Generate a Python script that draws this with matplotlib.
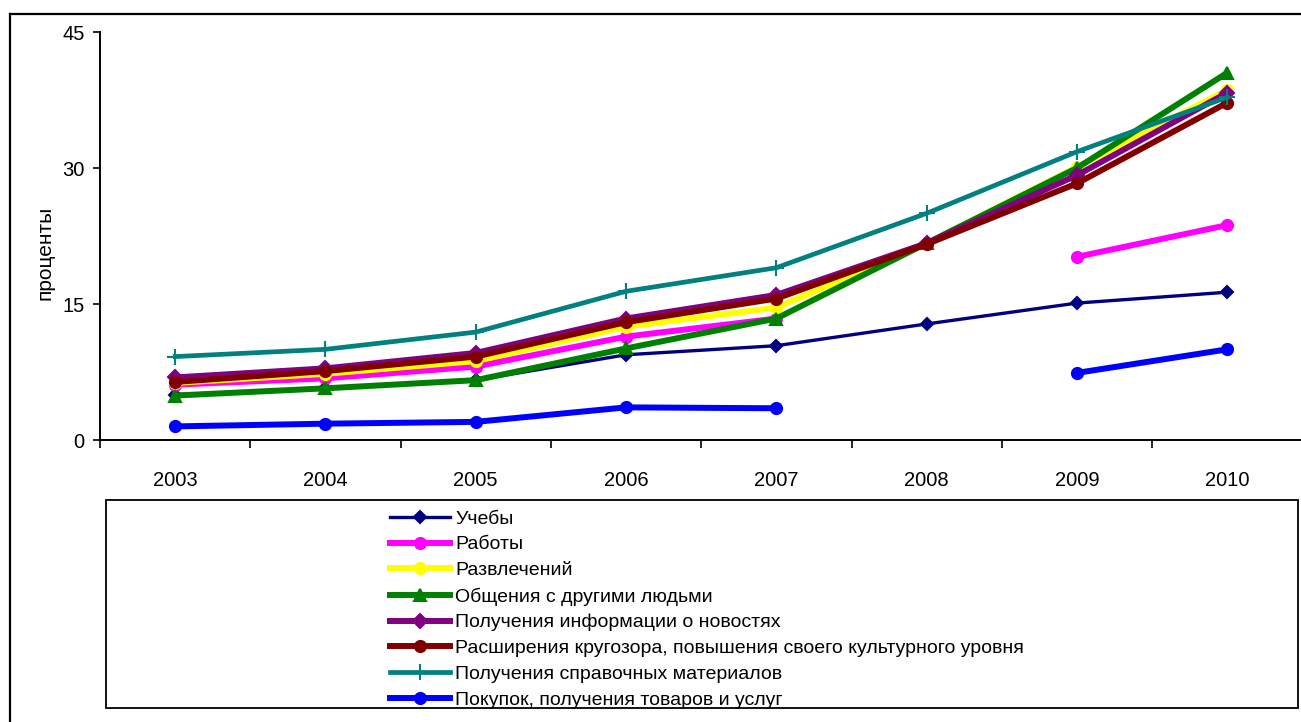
import numpy as np
import matplotlib.pyplot as plt
from matplotlib.lines import Line2D
from matplotlib.patches import Rectangle

plt.rcParams['font.family'] = ['Liberation Sans', 'DejaVu Sans']

years = ['2003', '2004', '2005', '2006', '2007', '2008', '2009', '2010']
nan = np.nan

ucheba = [5.0, 5.7, 6.6, 9.4, 10.4, 12.8, 15.1, 16.3]
raboty = [6.1, 6.8, 8.1, 11.4, 13.4, nan, 20.2, 23.7]
razvlech = [6.3, 7.3, 8.7, 12.5, 14.6, 21.7, 30.1, 38.6]
obshch = [4.9, 5.7, 6.6, 10.1, 13.4, 21.7, 30.0, 40.5]
novosti = [6.9, 7.9, 9.6, 13.4, 16.0, 21.7, 29.2, 38.3]
krugozor = [6.4, 7.6, 9.2, 13.0, 15.6, 21.6, 28.3, 37.2]
spravki = [9.2, 10.0, 11.9, 16.4, 19.0, 25.0, 31.8, 37.8]
pokupki = [1.5, 1.8, 2.0, 3.6, 3.5, nan, 7.4, 10.0]

labels = ['Учебы', 'Работы', 'Развлечений', 'Общения с другими людьми',
          'Получения информации о новостях',
          'Расширения кругозора, повышения своего культурного уровня',
          'Получения справочных материалов',
          'Покупок, получения товаров и услуг']

W, H = 1301, 722
fig = plt.figure(figsize=(W / 100, H / 100), dpi=100)
ax = fig.add_axes([100 / W, (H - 440) / H, 1202.4 / W, 408 / H])

x = np.arange(len(years))
series = [
    (ucheba, '#000080', 'D', 2.4, 6),
    (raboty, '#FF00FF', 'o', 4.3, 8),
    (razvlech, '#FFFF00', 'o', 4.3, 8),
    (obshch, '#008000', '^', 4.3, 9),
    (novosti, '#800080', 'D', 4.3, 7),
    (krugozor, '#800000', 'o', 4.3, 8),
    (spravki, '#008080', '+', 3.4, 12),
    (pokupki, '#0000FF', 'o', 4.3, 8),
]
for (vals, col, mk, lw, ms), lab in zip(series, labels):
    ax.plot(x, vals, color=col, marker=mk, lw=lw, ms=ms, mew=1.5,
            mec=col, mfc=col, label=lab, clip_on=False)

ax.set_xlim(-0.5, 7.5)
ax.set_ylim(0, 45)
ax.set_yticks([0, 15, 30, 45])
ax.set_xticks(x)
ax.set_xticklabels(years)
ax.set_xticks(np.arange(-0.5, 8.0, 1.0), minor=True)
ax.tick_params(axis='x', which='major', length=0, pad=22, labelsize=14.5)
ax.tick_params(axis='x', which='minor', length=6, width=1.2, direction='out')
ax.tick_params(axis='y', length=5, width=1.2, pad=6, labelsize=14.5)
for s in ['top', 'right']:
    ax.spines[s].set_visible(False)
for s in ['left', 'bottom']:
    ax.spines[s].set_linewidth(1.4)
ax.spines['bottom'].set_zorder(0)
ax.set_ylabel('проценты', fontsize=15)
ax.yaxis.set_label_coords((54 - 100) / 1202.4, (440 - 253) / 408)

# legend box below the plot
fig.patches.append(Rectangle((106 / W, (H - 708) / H), (1298 - 106) / W, 208 / H,
                             transform=fig.transFigure, fill=False,
                             ec='black', lw=1.3))
leg = fig.legend(loc='upper left', bbox_to_anchor=(390 / W, (H - 510) / H),
                 frameon=False, fontsize=14, handlelength=3.1,
                 handletextpad=0.26, labelspacing=0.42, borderpad=0,
                 borderaxespad=0)

# outer border
fig.lines.append(Line2D([9.5 / W, 9.5 / W], [0, (H - 13.5) / H],
                        transform=fig.transFigure, color='black', lw=1.6))
fig.lines.append(Line2D([9.5 / W, 1], [(H - 13.5) / H, (H - 13.5) / H],
                        transform=fig.transFigure, color='black', lw=1.6))

fig.savefig('out.png', dpi=100)
